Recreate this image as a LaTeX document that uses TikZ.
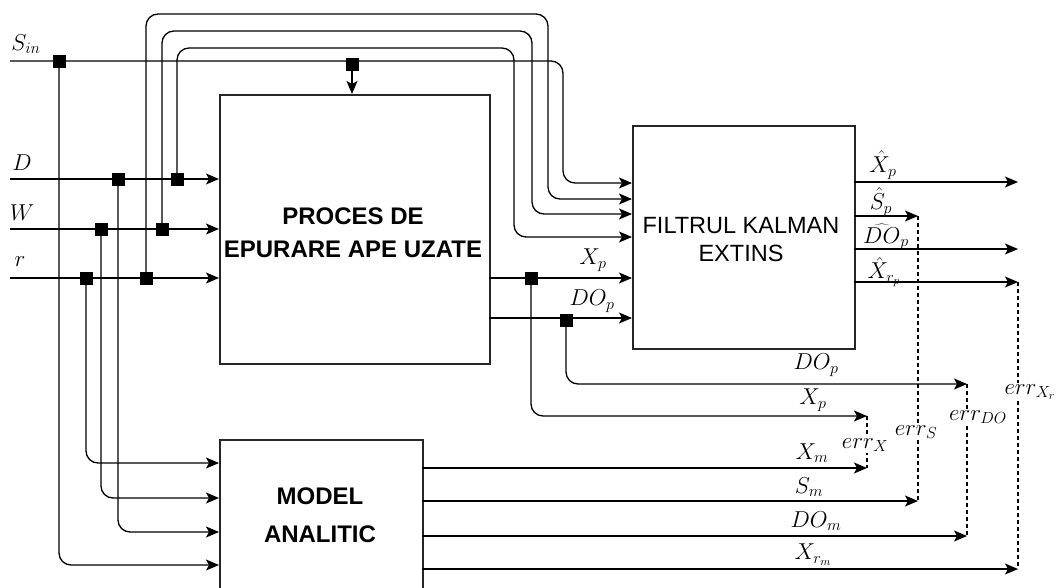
\RequirePackage{fix-cm}
\documentclass[tikz,border=0pt]{standalone}
\usepackage[no-math]{fontspec}
\setmainfont{Liberation Sans}
\usetikzlibrary{arrows.meta}
\tikzset{
  blk/.style={draw=black!85, line width=1.6pt, inner sep=0pt, anchor=north west},
  wire/.style={line width=1.3pt, rounded corners=12pt},
  arr/.style={wire, -{Stealth[length=13pt,width=11pt,inset=3pt]}},
  jn/.style={fill=black, minimum size=13pt, inner sep=0pt, draw=none},
  lbl/.style={font=\fontsize{23}{25}\selectfont, inner sep=0pt},
  errl/.style={lbl, fill=white, inner sep=1.5pt},
  errline/.style={line width=1.1pt, dash pattern=on 4pt off 3pt},
  boldtxt/.style={font=\fontsize{24}{33}\selectfont\bfseries, align=center},
  regtxt/.style={font=\fontsize{23.5}{28}\selectfont, align=center},
}
\begin{document}
\begin{tikzpicture}[x=1pt,y=-1pt]
\useasboundingbox (0,0) rectangle (1059,587);
\clip (0,0) rectangle (1059,587);

% blocks
\node[blk, minimum width=270pt, minimum height=269pt] (proc) at (219,94) {};
\node[blk, minimum width=222pt, minimum height=223pt] (kal) at (632,125) {};
\node[blk, minimum width=203pt, minimum height=170pt] (model) at (219,439) {};
\node[boldtxt] (proct) at (353,233) {PROCES DE\\EPURARE APE UZATE};
\node[regtxt] (kalt) at (741,240) {FILTRUL KALMAN\\EXTINS};
\node[font=\fontsize{24}{38}\selectfont\bfseries, align=center] (modt) at (320,515) {MODEL\\ANALITIC};

% coordinates
\coordinate (sin0) at (10,61);
\coordinate (d0) at (10,179);
\coordinate (w0) at (10,229);
\coordinate (r0) at (10,278);
\coordinate (pin1) at (219,179);
\coordinate (pin2) at (219,229);
\coordinate (pin3) at (219,278);
\coordinate (min1) at (219,463);
\coordinate (min2) at (219,498);
\coordinate (min3) at (219,532);
\coordinate (min4) at (219,565);
\coordinate (kin1) at (632,183);
\coordinate (kin2) at (632,199);
\coordinate (kin3) at (632,214);
\coordinate (kin4) at (632,237);
\coordinate (kin5) at (632,278);
\coordinate (kin6) at (632,318);
\coordinate (pout1) at (489,278);
\coordinate (pout2) at (489,318);
\coordinate (kout1) at (854,182);
\coordinate (kout2) at (854,216);
\coordinate (kout3) at (854,249);
\coordinate (kout4) at (854,282);
\coordinate (ko1) at (1018,182);
\coordinate (ko2) at (918,216);
\coordinate (ko3) at (1018,249);
\coordinate (ko4) at (1018,282);
\coordinate (mout1) at (422,468);
\coordinate (mout2) at (422,501);
\coordinate (mout3) at (422,536);
\coordinate (mout4) at (422,569);
\coordinate (mo1) at (867,468);
\coordinate (mo2) at (918,501);
\coordinate (mo3) at (967,536);
\coordinate (mo4) at (1018,569);
\coordinate (xpe) at (867,416);
\coordinate (dpe) at (967,384);

% junctions
\node[jn] (j1) at (59,61) {};
\node[jn] (j2) at (352,64) {};
\node[jn] (jd1) at (118,179) {};
\node[jn] (jd2) at (177,179) {};
\node[jn] (jw1) at (101,229) {};
\node[jn] (jw2) at (162,229) {};
\node[jn] (jr1) at (86,278) {};
\node[jn] (jr2) at (146,278) {};
\node[jn] (jx) at (531,278) {};
\node[jn] (jdo) at (566,320) {};

% inputs
\draw[arr] (sin0) -- ++(553,0) |- (kin1);
\draw[arr] (j2.center) -- (j2 |- proc.north);
\draw[arr] (d0) -- (pin1);
\draw[arr] (w0) -- (pin2);
\draw[arr] (r0) -- (pin3);
% feedback loops to Kalman
\draw[arr] (jr2.center) -- (146,14) -- (548,14) |- (kin2);
\draw[arr] (jw2.center) -- (162,31) -- (532,31) |- (kin3);
\draw[arr] (jd2.center) -- (177,48) -- (514,48) |- (kin4);
% to model
\draw[arr] (jr1.center) |- (min1);
\draw[arr] (jw1.center) |- (min2);
\draw[arr] (jd1.center) |- (min3);
\draw[arr] (j1.center) |- (min4);
% process outputs
\draw[arr] (pout1) -- (kin5);
\draw[arr] (pout2) -- (kin6);
\draw[arr] (jx.center) |- (xpe);
\draw[arr] (jdo.center) |- (dpe);
% Kalman outputs
\draw[arr] (kout1) -- (ko1);
\draw[arr] (kout2) -- (ko2);
\draw[arr] (kout3) -- (ko3);
\draw[arr] (kout4) -- (ko4);
% model outputs
\draw[arr] (mout1) -- (mo1);
\draw[arr] (mout2) -- (mo2);
\draw[arr] (mout3) -- (mo3);
\draw[arr] (mout4) -- (mo4);
% error dashed lines
\draw[errline] (xpe) -- (mo1);
\draw[errline] (ko2) -- (mo2);
\draw[errline] (dpe) -- (mo3);
\draw[errline] (ko4) -- (mo4);

% labels
\node[lbl] (lsin) at (26,44) {$S_{in}$};
\node[lbl] (ld) at (22,163) {$D$};
\node[lbl] (lw) at (22,213) {$W$};
\node[lbl] (lr) at (20,262) {$r$};
\node[lbl] (lxp) at (593,260) {$X_p$};
\node[lbl] (ldop) at (592,301) {$DO_p$};
\node[lbl] (lxh) at (883,165) {$\hat{X}_p$};
\node[lbl] (lsh) at (881,202) {$\hat{S}_p$};
\node[lbl] (ldoh) at (886,237) {$\widehat{DO}_p$};
\node[lbl] (lxrh) at (884,272) {$\hat{X}_{r_p}$};
\node[lbl] (ldop2) at (816,365) {$DO_p$};
\node[lbl] (lxp2) at (813,400) {$X_p$};
\node[lbl] (lxm) at (812,453) {$X_m$};
\node[lbl] (lsm) at (809,487) {$S_m$};
\node[lbl] (ldom) at (816,521) {$DO_m$};
\node[lbl] (lxrm) at (813,555) {$X_{r_m}$};
\node[errl] (ex) at (865,445) {$err_X$};
\node[errl] (es) at (916,432) {$err_S$};
\node[errl] (edo) at (978,417) {$err_{DO}$};
\node[errl] (exr) at (1030,392) {$err_{X_r}$};
\end{tikzpicture}
\end{document}
